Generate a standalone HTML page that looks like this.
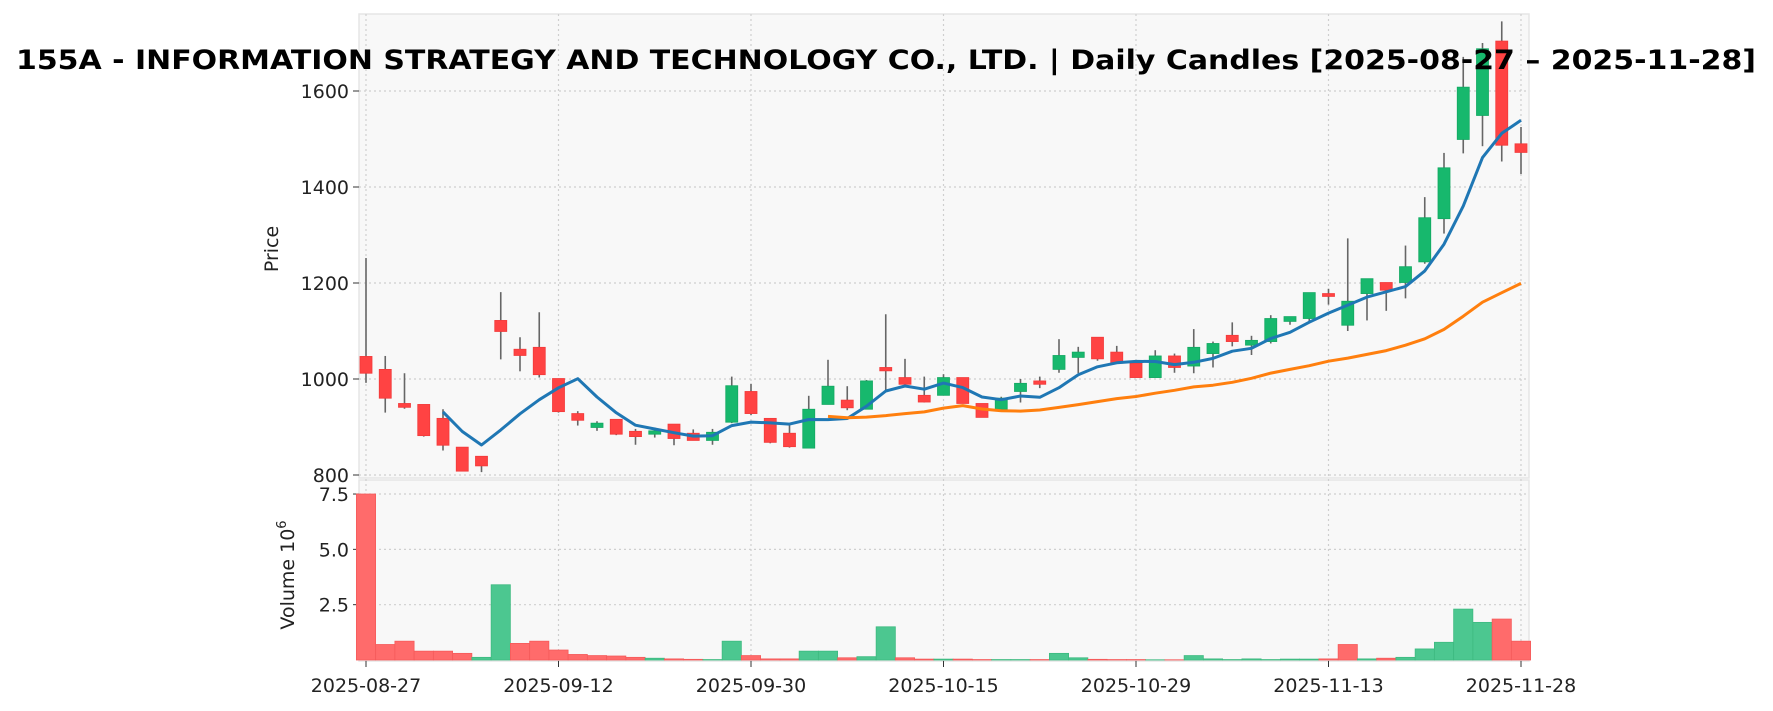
<!DOCTYPE html>
<html><head><meta charset="utf-8">
<style>
html,body{margin:0;padding:0;background:#fff;}
svg{display:block;font-family:"DejaVu Sans","Liberation Sans",sans-serif;}
</style></head>
<body>
<svg id="s" width="1773" height="711" viewBox="0 0 1773 711" xmlns="http://www.w3.org/2000/svg">
<rect x="0" y="0" width="1773" height="711" fill="#fff"/>
<rect x="359" y="14" width="1170" height="464" fill="#f8f8f8" stroke="#e6e6e6" stroke-width="1.5"/>
<rect x="359" y="480" width="1170" height="181" fill="#f8f8f8" stroke="#e6e6e6" stroke-width="1.5"/>
<g id="grid"></g>
<g id="vol"></g>
<g id="cand"></g>
<g id="ma"></g>
<g id="lab" font-size="19" fill="#222"></g>
<text x="886" y="69" text-anchor="middle" font-size="27" font-weight="bold" textLength="1740" lengthAdjust="spacingAndGlyphs" fill="#000">155A - INFORMATION STRATEGY AND TECHNOLOGY CO., LTD. | Daily Candles [2025-08-27 – 2025-11-28]</text>
<text transform="translate(278,249) rotate(-90)" text-anchor="middle" font-size="19" fill="#222">Price</text>
<text transform="translate(294,575) rotate(-90)" text-anchor="middle" font-size="19" fill="#222">Volume  10<tspan font-size="13" dy="-8">6</tspan></text>
</svg>
<script>
var D=[
[1047,1252,992,1012],[1020,1048,930,960],[949,1012,938,941],[947,947,880,882],[918,937,851,862],
[858,858,808,808],[839,839,806,819],[1122,1181,1041,1099],[1062,1087,1016,1049],[1066,1139,1003,1009],
[1001,1001,930,932],[928,933,903,914],[899,912,892,908],[916,916,883,885],[891,896,863,880],
[885,899,878,892],[906,906,862,876],[887,895,872,872],[872,896,863,889],[910,1005,908,986],
[974,990,925,928],[918,918,866,868],[887,904,857,859],[856,965,856,937],[947,1040,947,985],
[956,985,935,940],[937,998,937,996],[1024,1135,977,1017],[1003,1042,987,989],[966,1005,951,952],
[966,1010,966,1003],[1003,1003,949,949],[949,949,920,920],[937,963,935,960],[974,1000,951,991],
[996,1005,981,989],[1020,1083,1013,1049],[1045,1067,1012,1056],[1087,1087,1038,1042],[1056,1069,1033,1033],
[1033,1033,1003,1003],[1003,1060,1003,1048],[1048,1053,1013,1024],[1027,1104,1012,1066],[1053,1078,1024,1074],
[1091,1118,1068,1078],[1073,1090,1050,1078],[1078,1133,1074,1126],[1120,1130,1113,1130],[1126,1180,1118,1180],
[1178,1188,1155,1172],[1112,1293,1100,1162],[1178,1209,1122,1209],[1201,1201,1142,1185],[1201,1278,1168,1234],
[1244,1379,1240,1336],[1334,1471,1303,1440],[1499,1671,1470,1608],[1549,1700,1485,1688],[1704,1745,1453,1487],
[1490,1525,1427,1472]];
var V=[7.5,0.7,0.85,0.4,0.4,0.3,0.12,3.4,0.75,0.85,0.45,0.25,0.2,0.18,0.12,0.08,0.05,0.03,0.02,0.85,
0.2,0.05,0.05,0.4,0.4,0.1,0.15,1.5,0.1,0.04,0.04,0.04,0.02,0.02,0.02,0.02,0.3,0.1,0.03,0.02,
0.02,0.01,0.01,0.2,0.05,0.02,0.05,0.02,0.04,0.04,0.05,0.7,0.05,0.08,0.12,0.5,0.8,2.3,1.7,1.85,0.85];
var NS="http://www.w3.org/2000/svg";
function el(p,t,a,txt){var e=document.createElementNS(NS,t);for(var k in a)e.setAttribute(k,a[k]);if(txt!=null)e.textContent=txt;document.getElementById(p).appendChild(e);return e;}
function X(i){return 366+19.25*i;}
function Y(p){return 379+(1000-p)*0.48;}
function VY(v){return 660-v*22.13;}
[800,1000,1200,1400,1600].forEach(function(p){var y=Y(p);el("grid","line",{x1:359,x2:1529,y1:y,y2:y,stroke:"#cfcfcf","stroke-width":1.2,"stroke-dasharray":"2,3"});
el("grid","line",{x1:353,x2:359,y1:y,y2:y,stroke:"#333","stroke-width":1});
el("lab","text",{x:349,y:y+7,"text-anchor":"end"},String(p));});
[2.5,5.0,7.5].forEach(function(v){var y=VY(v);el("grid","line",{x1:359,x2:1529,y1:y,y2:y,stroke:"#cfcfcf","stroke-width":1.2,"stroke-dasharray":"2,3"});
el("grid","line",{x1:353,x2:359,y1:y,y2:y,stroke:"#333","stroke-width":1});
el("lab","text",{x:349,y:y+7,"text-anchor":"end"},v.toFixed(1));});
var xl=["2025-08-27","2025-09-12","2025-09-30","2025-10-15","2025-10-29","2025-11-13","2025-11-28"];
xl.forEach(function(t,k){var x=X(k*10);el("grid","line",{x1:x,x2:x,y1:14,y2:661,stroke:"#cfcfcf","stroke-width":1.2,"stroke-dasharray":"2,3"});
el("grid","line",{x1:x,x2:x,y1:661,y2:667,stroke:"#333","stroke-width":1});
el("lab","text",{x:x,y:692,"text-anchor":"middle"},t);});
for(var i=0;i<D.length;i++){var up=i==0?false:D[i][3]>=D[i-1][3];var y=VY(V[i]);
el("vol","rect",{x:X(i)-9.6,y:y,width:19.2,height:660-y,fill:up?"#4cc790":"#ff6b6b",stroke:up?"#3dba80":"#f55a5a","stroke-width":0.8});}
for(var i=0;i<D.length;i++){var d=D[i],o=d[0],h=d[1],l=d[2],c=d[3];var g=c>=o;var col=g?"#17b86d":"#ff4343";var x=X(i);
el("cand","line",{x1:x,x2:x,y1:Y(h),y2:Y(l),stroke:"#666","stroke-width":1.6});
var t=Y(Math.max(o,c)),b=Y(Math.min(o,c));if(b-t<2.5){t-=1.2;b+=1.2;}
el("cand","rect",{x:x-6,y:t,width:12,height:b-t,fill:col,stroke:g?"#13a862":"#f23a3a","stroke-width":0.8});}
function ma(n,color){var pts=[];for(var i=n-1;i<D.length;i++){var s=0;for(var j=i-n+1;j<=i;j++)s+=D[j][3];pts.push(X(i).toFixed(1)+","+Y(s/n).toFixed(1));}
el("ma","polyline",{points:pts.join(" "),fill:"none",stroke:color,"stroke-width":3,"stroke-linejoin":"round"});}
ma(5,"#1f77b4");ma(25,"#ff7f0e");
</script>
</body></html>
